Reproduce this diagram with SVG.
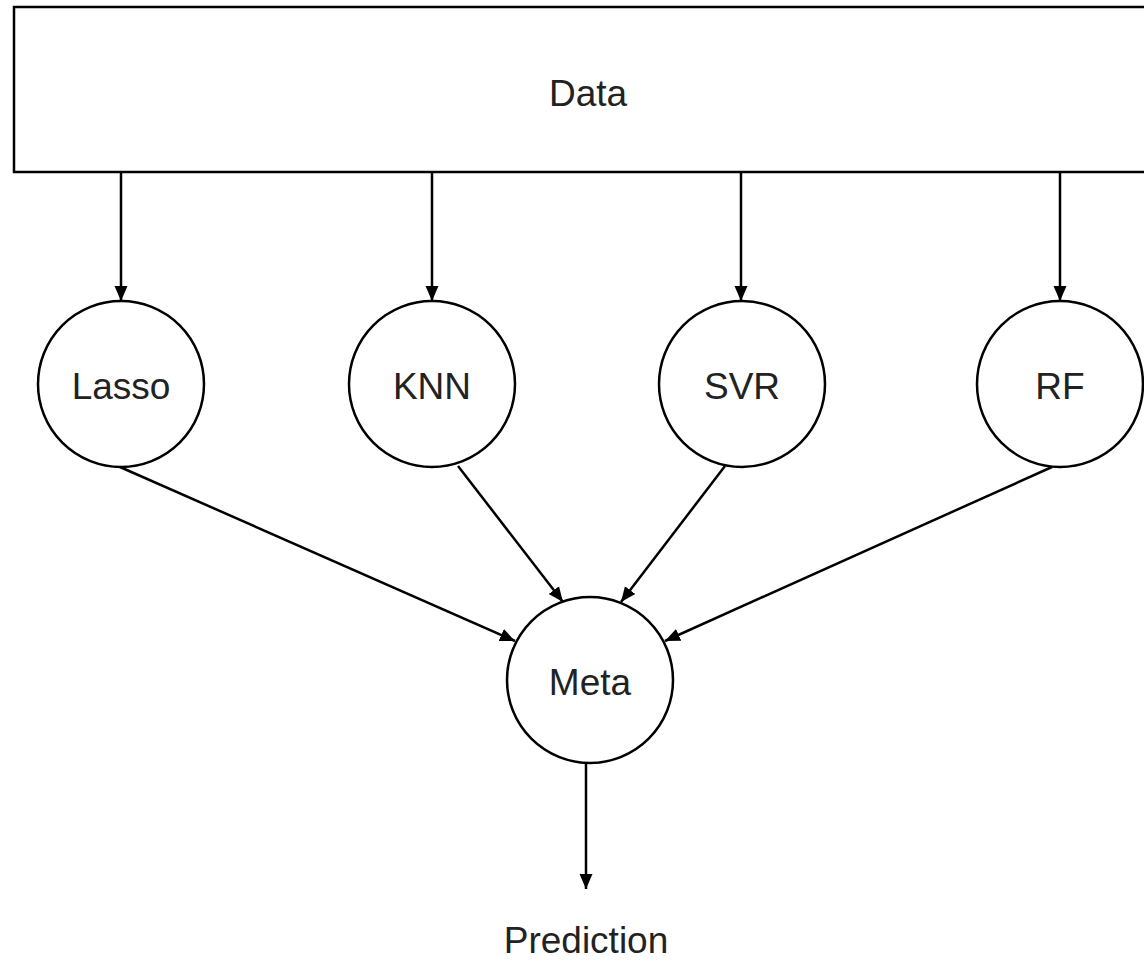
<svg xmlns="http://www.w3.org/2000/svg" width="1144" height="963" viewBox="0 0 1144 963">
<style>
.box{fill:#fff;stroke:#000;stroke-width:2.5}
.node{fill:#fff;stroke:#000;stroke-width:2.5}
.lbl{font-family:"Liberation Sans",Arial,sans-serif;font-size:37px;fill:#222;text-anchor:middle}
.edge{stroke:#000;stroke-width:2.5;fill:none;marker-end:url(#ah)}
</style>
<defs>
<marker id="ah" markerUnits="userSpaceOnUse" markerWidth="16" markerHeight="16" viewBox="0 0 16 16" refX="15" refY="8" orient="auto">
<path d="M0,1.5 L15,8 L0,14.5 Z" fill="#000"/>
</marker>
</defs>
<rect width="1144" height="963" fill="#fff"/>
<g id="data">
<rect class="box" x="14" y="7" width="1140" height="165"/>
<text class="lbl" x="588" y="106">Data</text>
</g>
<g id="lasso">
<circle class="node" cx="121" cy="384" r="83"/>
<text class="lbl" x="121" y="399">Lasso</text>
</g>
<g id="knn">
<circle class="node" cx="432" cy="384" r="83"/>
<text class="lbl" x="432" y="399">KNN</text>
</g>
<g id="svr">
<circle class="node" cx="742" cy="384" r="83"/>
<text class="lbl" x="742" y="399">SVR</text>
</g>
<g id="rf">
<circle class="node" cx="1060" cy="384" r="83"/>
<text class="lbl" x="1060" y="399">RF</text>
</g>
<g id="meta">
<circle class="node" cx="590" cy="680" r="83"/>
<text class="lbl" x="590" y="695">Meta</text>
</g>
<g id="prediction">
<text class="lbl" x="586" y="953">Prediction</text>
</g>
<g id="connectors">
<line class="edge" x1="121" y1="172" x2="121" y2="301"/>
<line class="edge" x1="432" y1="172" x2="432" y2="301"/>
<line class="edge" x1="741" y1="172" x2="741" y2="301"/>
<line class="edge" x1="1060" y1="172" x2="1060" y2="301"/>
<line class="edge" x1="120" y1="467" x2="515" y2="641"/>
<line class="edge" x1="458" y1="466" x2="563" y2="602"/>
<line class="edge" x1="725" y1="466" x2="621" y2="602"/>
<line class="edge" x1="1052" y1="467" x2="665" y2="641"/>
<line class="edge" x1="586" y1="763" x2="586" y2="889"/>
</g>
</svg>
